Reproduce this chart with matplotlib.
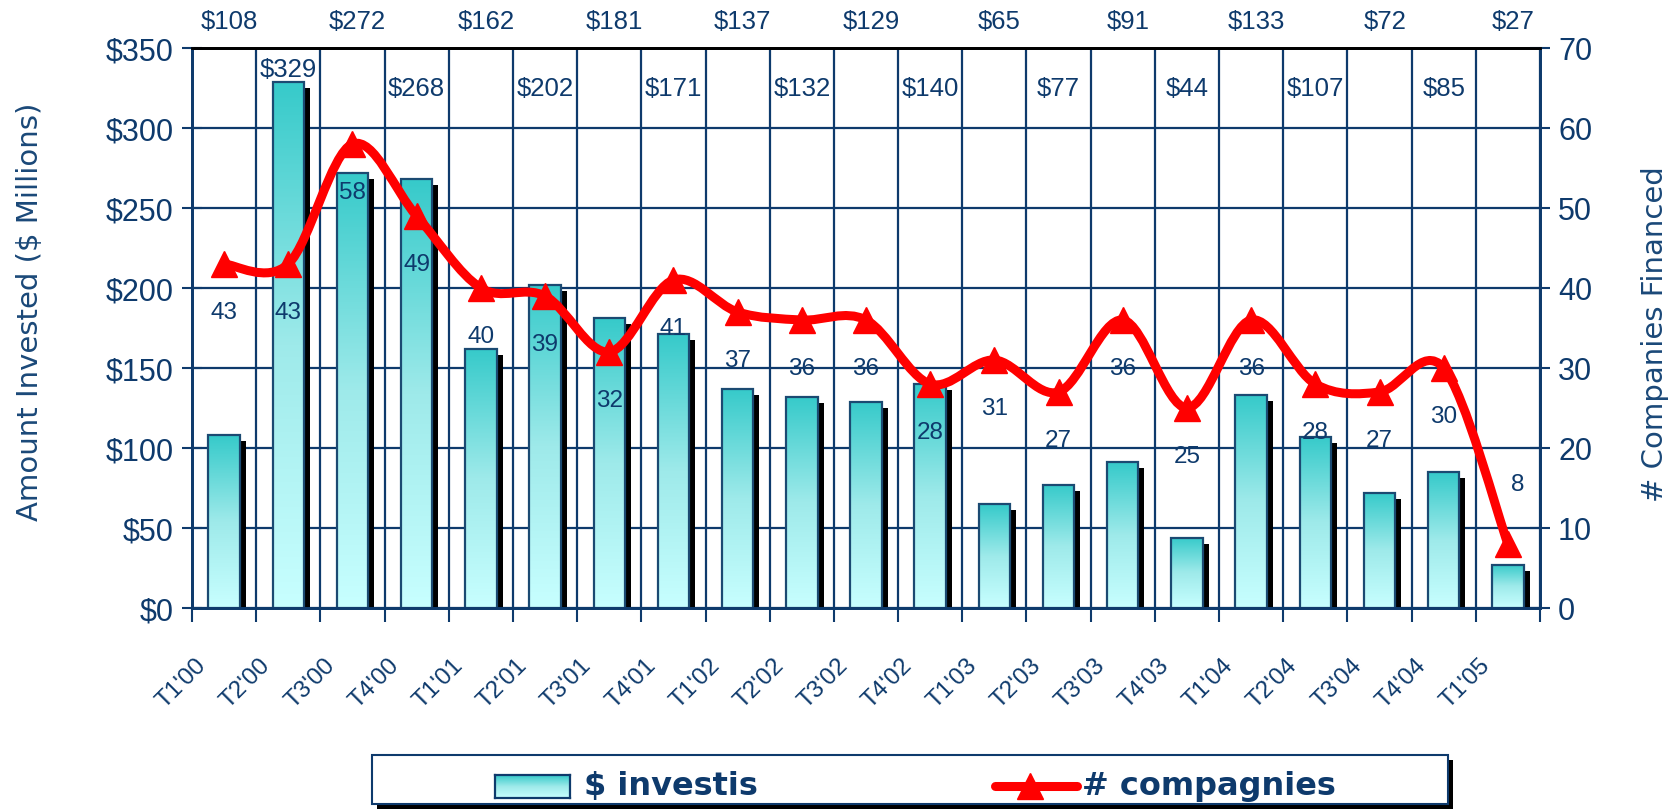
import numpy as np
import matplotlib
matplotlib.use('Agg')
import matplotlib.pyplot as plt
import matplotlib.transforms as mtransforms
from matplotlib.path import Path
from matplotlib.patches import PathPatch, Rectangle
from matplotlib.colors import LinearSegmentedColormap
from matplotlib.lines import Line2D

quarters = ["T1'00", "T2'00", "T3'00", "T4'00", "T1'01", "T2'01", "T3'01", "T4'01",
            "T1'02", "T2'02", "T3'02", "T4'02", "T1'03", "T2'03", "T3'03", "T4'03",
            "T1'04", "T2'04", "T3'04", "T4'04", "T1'05"]
invested = [108, 329, 272, 268, 162, 202, 181, 171, 137, 132, 129, 140,
            65, 77, 91, 44, 133, 107, 72, 85, 27]
companies = [43, 43, 58, 49, 40, 39, 32, 41, 37, 36, 36, 28,
             31, 27, 36, 25, 36, 28, 27, 30, 8]

NAVY = '#0E3A6C'
RED = '#FF0000'
ARIAL = ['Liberation Sans', 'DejaVu Sans']
W, H = 1676, 812


def fx(px):
    return px / W


def fy(py):
    return 1 - py / H


bar_cmap = LinearSegmentedColormap.from_list('bar', ['#C8FFFF', '#9EEAEA', '#36CACA'])
grad = np.linspace(0, 1, 256).reshape(-1, 1)

fig = plt.figure(figsize=(W / 100, H / 100), dpi=100)
ax = fig.add_axes([fx(192), fy(609), fx(1540) - fx(192), fy(49) - fy(609)])
ax2 = ax.twinx()

x = np.arange(len(quarters))

# black drop shadow behind each bar
shadow = ax.bar(x, invested, width=0.49, color='black', zorder=2)
off = mtransforms.ScaledTranslation(6 / 100, -6 / 100, fig.dpi_scale_trans)
for r in shadow:
    r.set_transform(ax.transData + off)

bars = ax.bar(x, invested, width=0.49, facecolor='none', edgecolor='#1B4A72',
              linewidth=1.6, zorder=3)
for r in bars:
    x0, w, h = r.get_x(), r.get_width(), r.get_height()
    im = ax.imshow(grad, extent=[x0, x0 + w, 0, h], origin='lower', cmap=bar_cmap,
                   aspect='auto', zorder=2.5, interpolation='bilinear')
    im.set_clip_path(r)

ax.set_xlim(-0.5, len(quarters) - 0.5)
ax.set_ylim(0, 350)
ax2.set_ylim(0, 70)

ax.set_yticks(range(0, 351, 50))
ax.set_yticklabels(['\\$%d' % v for v in range(0, 351, 50)])
ax2.set_yticks(range(0, 71, 10))
ax.set_xticks(np.arange(-0.5, len(quarters), 1))
ax.set_xticklabels([])
ax.set_axisbelow(True)
ax.grid(True, color=NAVY, linewidth=1.6)

ax.tick_params(axis='y', direction='inout', length=14, width=1.5, colors=NAVY,
               labelsize=22, pad=6)
ax2.tick_params(axis='y', direction='inout', length=14, width=1.5, colors=NAVY,
                labelsize=22, pad=6)
ax.tick_params(axis='x', direction='out', length=10, width=1.5, colors=NAVY)
for t in ax.get_yticklabels() + ax2.get_yticklabels():
    t.set_fontfamily(ARIAL)

for a in (ax, ax2):
    for s in ('left', 'right', 'bottom'):
        a.spines[s].set_color(NAVY)
        a.spines[s].set_linewidth(2)
    a.spines['top'].set_color('black')
    a.spines['top'].set_linewidth(2)

# smoothed count line (bezier through the points)
pts = np.column_stack([x, companies]).astype(float)
n = len(pts)
verts = [pts[0]]
codes = [Path.MOVETO]
for i in range(n - 1):
    p0 = pts[max(i - 1, 0)]
    p1 = pts[i]
    p2 = pts[i + 1]
    p3 = pts[min(i + 2, n - 1)]
    verts += [p1 + (p2 - p0) / 6, p2 - (p3 - p1) / 6, p2]
    codes += [Path.CURVE4] * 3
ax2.add_patch(PathPatch(Path(verts, codes), facecolor='none', edgecolor=RED,
                        linewidth=6.5, capstyle='round', joinstyle='round', zorder=5))
ax2.plot(x, companies, linestyle='none', marker='^', markersize=19, color=RED, zorder=6)

# $ labels, alternating rows
for i, v in enumerate(invested):
    if i % 2 == 0:
        xi, y = i + 0.08, 367
    else:
        xi, y = i, max(325, v + 8)
    ax.text(xi, y, '\\$%d' % v, ha='center', va='center', fontsize=18.5,
            family=ARIAL, color=NAVY, zorder=7, clip_on=False)

# count labels
for i, c in enumerate(companies):
    dx, dy = (7, 43) if i == n - 1 else (0, -34.5)
    ax2.annotate(str(c), (i, c), xytext=(dx, dy), textcoords='offset points',
                 ha='center', va='center', fontsize=17.5, family=ARIAL,
                 color=NAVY, zorder=7)

# rotated quarter labels
trans = mtransforms.blended_transform_factory(ax.transData, ax.transAxes)
for i, q in enumerate(quarters):
    ax.text(i - 0.33, -0.095, q, transform=trans, rotation=45, rotation_mode='anchor',
            ha='right', va='center', fontsize=17.5, family=ARIAL, color=NAVY,
            clip_on=False)

fig.text(fx(30), fy(312), 'Amount Invested (\\$ Millions)', rotation=90,
         ha='center', va='center', fontsize=21, color='#1A4878', family='DejaVu Sans')
fig.text(fx(1655), fy(334), '# Companies Financed', rotation=90,
         ha='center', va='center', fontsize=21, color='#1A4878', family='DejaVu Sans')

# legend box drawn by hand
fig.add_artist(Rectangle((fx(377), fy(810)), fx(1453) - fx(377), fy(761) - fy(810),
                         transform=fig.transFigure, facecolor='black', edgecolor='none',
                         zorder=1))
fig.add_artist(Rectangle((fx(372), fy(805)), fx(1448) - fx(372), fy(756) - fy(805),
                         transform=fig.transFigure, facecolor='white',
                         edgecolor=NAVY, linewidth=1.5, zorder=1.5))
lax = fig.add_axes([fx(495), fy(799), fx(570) - fx(495), fy(776) - fy(799)])
lax.set_zorder(3)
lax.imshow(grad, origin='lower', cmap=bar_cmap, aspect='auto', extent=[0, 1, 0, 1])
lax.set_xticks([])
lax.set_yticks([])
for s in lax.spines.values():
    s.set_color(NAVY)
    s.set_linewidth(1.6)
fig.add_artist(Line2D([fx(995), fx(1077)], [fy(787), fy(787)], transform=fig.transFigure,
                      color=RED, linewidth=6.5, solid_capstyle='round', zorder=4))
fig.add_artist(Line2D([fx(1030)], [fy(787)], transform=fig.transFigure, marker='^',
                      markersize=19, color=RED, linestyle='none', zorder=4))
fig.text(fx(584), fy(787), '\\$ investis', ha='left', va='center', fontsize=23,
         fontweight='bold', color=NAVY, family='DejaVu Sans', zorder=4)
fig.text(fx(1082), fy(787), '# compagnies', ha='left', va='center', fontsize=23,
         fontweight='bold', color=NAVY, family='DejaVu Sans', zorder=4)

fig.savefig('out.png', dpi=100, facecolor='white')
